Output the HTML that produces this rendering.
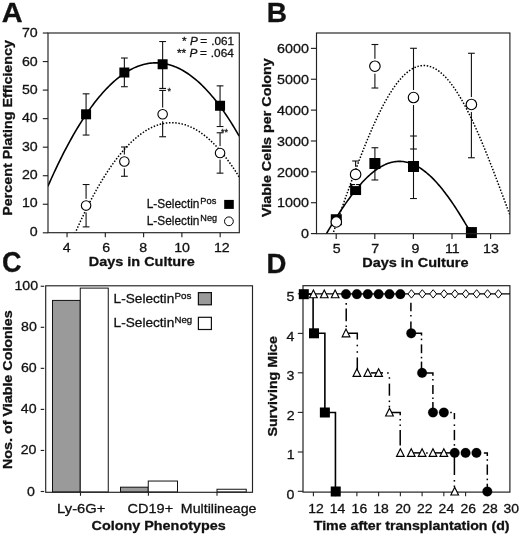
<!DOCTYPE html>
<html><head><meta charset="utf-8"><title>Figure</title>
<style>html,body{margin:0;padding:0;background:#fff}svg{display:block}text{font-family:"Liberation Sans",sans-serif;stroke:#111;stroke-width:0.3px}</style>
</head><body>
<svg width="520" height="535" viewBox="0 0 520 535" fill="#111">
<g id="panelA">
<text transform="translate(1.77,21.70) scale(1.0558,1)" font-size="27.4" font-weight="bold" >A</text>
<clipPath id="cA"><rect x="48.0" y="33.0" width="191.3" height="199.7"/></clipPath>
<line x1="86.08" y1="93.83" x2="86.08" y2="135.05" stroke="#111" stroke-width="1.1" />
<line x1="82.68" y1="93.83" x2="89.48" y2="93.83" stroke="#111" stroke-width="1.1" />
<line x1="82.68" y1="135.05" x2="89.48" y2="135.05" stroke="#111" stroke-width="1.1" />
<line x1="124.36" y1="58.01" x2="124.36" y2="86.72" stroke="#111" stroke-width="1.1" />
<line x1="120.96" y1="58.01" x2="127.76" y2="58.01" stroke="#111" stroke-width="1.1" />
<line x1="120.96" y1="86.72" x2="127.76" y2="86.72" stroke="#111" stroke-width="1.1" />
<line x1="162.64" y1="41.52" x2="162.64" y2="88.43" stroke="#111" stroke-width="1.1" />
<line x1="159.24" y1="41.52" x2="166.04" y2="41.52" stroke="#111" stroke-width="1.1" />
<line x1="159.24" y1="88.43" x2="166.04" y2="88.43" stroke="#111" stroke-width="1.1" />
<line x1="220.06" y1="85.87" x2="220.06" y2="126.52" stroke="#111" stroke-width="1.1" />
<line x1="216.66" y1="85.87" x2="223.46" y2="85.87" stroke="#111" stroke-width="1.1" />
<line x1="216.66" y1="126.52" x2="223.46" y2="126.52" stroke="#111" stroke-width="1.1" />
<line x1="86.08" y1="184.52" x2="86.08" y2="226.88" stroke="#111" stroke-width="1.1" />
<line x1="82.68" y1="184.52" x2="89.48" y2="184.52" stroke="#111" stroke-width="1.1" />
<line x1="82.68" y1="226.88" x2="89.48" y2="226.88" stroke="#111" stroke-width="1.1" />
<line x1="124.36" y1="146.99" x2="124.36" y2="176.28" stroke="#111" stroke-width="1.1" />
<line x1="120.96" y1="146.99" x2="127.76" y2="146.99" stroke="#111" stroke-width="1.1" />
<line x1="120.96" y1="176.28" x2="127.76" y2="176.28" stroke="#111" stroke-width="1.1" />
<line x1="162.64" y1="90.42" x2="162.64" y2="136.76" stroke="#111" stroke-width="1.1" />
<line x1="159.24" y1="90.42" x2="166.04" y2="90.42" stroke="#111" stroke-width="1.1" />
<line x1="159.24" y1="136.76" x2="166.04" y2="136.76" stroke="#111" stroke-width="1.1" />
<line x1="220.06" y1="132.78" x2="220.06" y2="173.15" stroke="#111" stroke-width="1.1" />
<line x1="216.66" y1="132.78" x2="223.46" y2="132.78" stroke="#111" stroke-width="1.1" />
<line x1="216.66" y1="173.15" x2="223.46" y2="173.15" stroke="#111" stroke-width="1.1" />
<circle cx="86.08" cy="205.56" r="6.9" fill="#fff" stroke="none" stroke-width="0"/>
<circle cx="124.36" cy="161.49" r="6.9" fill="#fff" stroke="none" stroke-width="0"/>
<circle cx="162.64" cy="114.30" r="6.9" fill="#fff" stroke="none" stroke-width="0"/>
<circle cx="220.06" cy="152.96" r="6.9" fill="#fff" stroke="none" stroke-width="0"/>
<g clip-path="url(#cA)">
<path d="M47.80,186.54 L49.41,182.89 L51.02,179.29 L52.63,175.75 L54.23,172.26 L55.84,168.83 L57.45,165.45 L59.06,162.12 L60.67,158.86 L62.28,155.64 L63.88,152.48 L65.49,149.38 L67.10,146.33 L68.71,143.33 L70.32,140.39 L71.93,137.50 L73.53,134.67 L75.14,131.90 L76.75,129.17 L78.36,126.51 L79.97,123.89 L81.58,121.34 L83.18,118.83 L84.79,116.39 L86.40,113.99 L88.01,111.65 L89.62,109.37 L91.23,107.14 L92.84,104.97 L94.44,102.85 L96.05,100.78 L97.66,98.77 L99.27,96.81 L100.88,94.91 L102.49,93.07 L104.09,91.28 L105.70,89.54 L107.31,87.86 L108.92,86.23 L110.53,84.66 L112.14,83.14 L113.74,81.68 L115.35,80.27 L116.96,78.91 L118.57,77.61 L120.18,76.37 L121.79,75.18 L123.39,74.05 L125.00,72.97 L126.61,71.94 L128.22,70.97 L129.83,70.05 L131.44,69.19 L133.05,68.39 L134.65,67.63 L136.26,66.94 L137.87,66.30 L139.48,65.71 L141.09,65.18 L142.70,64.70 L144.30,64.27 L145.91,63.91 L147.52,63.59 L149.13,63.33 L150.74,63.13 L152.35,62.98 L153.95,62.88 L155.56,62.84 L157.17,62.86 L158.78,62.93 L160.39,63.05 L162.00,63.23 L163.61,63.46 L165.21,63.75 L166.82,64.09 L168.43,64.49 L170.04,64.94 L171.65,65.45 L173.26,66.01 L174.86,66.63 L176.47,67.30 L178.08,68.03 L179.69,68.81 L181.30,69.64 L182.91,70.53 L184.51,71.48 L186.12,72.48 L187.73,73.53 L189.34,74.64 L190.95,75.80 L192.56,77.02 L194.16,78.30 L195.77,79.62 L197.38,81.01 L198.99,82.44 L200.60,83.94 L202.21,85.48 L203.82,87.08 L205.42,88.74 L207.03,90.45 L208.64,92.22 L210.25,94.04 L211.86,95.91 L213.47,97.84 L215.07,99.83 L216.68,101.87 L218.29,103.96 L219.90,106.11 L221.51,108.31 L223.12,110.57 L224.72,112.89 L226.33,115.25 L227.94,117.68 L229.55,120.15 L231.16,122.69 L232.77,125.27 L234.37,127.91 L235.98,130.61 L237.59,133.36 L239.20,136.17" fill="none" stroke="#000" stroke-width="1.6" />
<path d="M70.00,245.11 L71.14,242.39 L72.28,239.70 L73.42,237.04 L74.56,234.41 L75.70,231.81 L76.85,229.24 L77.99,226.70 L79.13,224.19 L80.27,221.72 L81.41,219.27 L82.55,216.85 L83.69,214.47 L84.83,212.11 L85.97,209.79 L87.11,207.49 L88.26,205.23 L89.40,202.99 L90.54,200.79 L91.68,198.62 L92.82,196.48 L93.96,194.36 L95.10,192.28 L96.24,190.23 L97.38,188.21 L98.52,186.22 L99.66,184.26 L100.81,182.33 L101.95,180.44 L103.09,178.57 L104.23,176.73 L105.37,174.92 L106.51,173.15 L107.65,171.40 L108.79,169.69 L109.93,168.00 L111.07,166.35 L112.21,164.73 L113.36,163.13 L114.50,161.57 L115.64,160.04 L116.78,158.54 L117.92,157.07 L119.06,155.63 L120.20,154.22 L121.34,152.85 L122.48,151.50 L123.62,150.18 L124.77,148.90 L125.91,147.64 L127.05,146.42 L128.19,145.22 L129.33,144.06 L130.47,142.93 L131.61,141.83 L132.75,140.75 L133.89,139.71 L135.03,138.71 L136.17,137.73 L137.32,136.78 L138.46,135.86 L139.60,134.98 L140.74,134.12 L141.88,133.29 L143.02,132.50 L144.16,131.74 L145.30,131.01 L146.44,130.30 L147.58,129.63 L148.72,128.99 L149.87,128.38 L151.01,127.81 L152.15,127.26 L153.29,126.74 L154.43,126.26 L155.57,125.80 L156.71,125.38 L157.85,124.99 L158.99,124.62 L160.13,124.29 L161.28,123.99 L162.42,123.72 L163.56,123.48 L164.70,123.28 L165.84,123.10 L166.98,122.95 L168.12,122.84 L169.26,122.76 L170.40,122.70 L171.54,122.68 L172.68,122.69 L173.83,122.73 L174.97,122.80 L176.11,122.90 L177.25,123.04 L178.39,123.20 L179.53,123.40 L180.67,123.62 L181.81,123.88 L182.95,124.17 L184.09,124.49 L185.23,124.84 L186.38,125.22 L187.52,125.63 L188.66,126.08 L189.80,126.55 L190.94,127.06 L192.08,127.60 L193.22,128.16 L194.36,128.76 L195.50,129.39 L196.64,130.05 L197.79,130.75 L198.93,131.47 L200.07,132.23 L201.21,133.01 L202.35,133.83 L203.49,134.68 L204.63,135.56 L205.77,136.47 L206.91,137.41 L208.05,138.38 L209.19,139.39 L210.34,140.42 L211.48,141.49 L212.62,142.59 L213.76,143.72 L214.90,144.88 L216.04,146.07 L217.18,147.29 L218.32,148.55 L219.46,149.83 L220.60,151.15 L221.74,152.50 L222.89,153.88 L224.03,155.29 L225.17,156.73 L226.31,158.20 L227.45,159.71 L228.59,161.25 L229.73,162.81 L230.87,164.41 L232.01,166.04 L233.15,167.70 L234.30,169.40 L235.44,171.12 L236.58,172.88 L237.72,174.66 L238.86,176.48 L240.00,178.33" fill="none" stroke="#000" stroke-width="1.5" stroke-dasharray="1.5 1.65"/>
</g>
<rect x="81.08" y="109.30" width="10.00" height="10.00" fill="#000" stroke="none" stroke-width="1"/>
<rect x="119.36" y="67.51" width="10.00" height="10.00" fill="#000" stroke="none" stroke-width="1"/>
<rect x="157.64" y="59.26" width="10.00" height="10.00" fill="#000" stroke="none" stroke-width="1"/>
<rect x="215.06" y="100.77" width="10.00" height="10.00" fill="#000" stroke="none" stroke-width="1"/>
<circle cx="86.08" cy="205.56" r="4.75" fill="#fff" stroke="#000" stroke-width="1.1"/>
<circle cx="124.36" cy="161.49" r="4.75" fill="#fff" stroke="#000" stroke-width="1.1"/>
<circle cx="162.64" cy="114.30" r="4.75" fill="#fff" stroke="#000" stroke-width="1.1"/>
<circle cx="220.06" cy="152.96" r="4.75" fill="#fff" stroke="#000" stroke-width="1.1"/>
<rect x="48.00" y="33.00" width="191.30" height="199.70" fill="none" stroke="#222" stroke-width="1.15"/>
<line x1="42.80" y1="232.80" x2="48.00" y2="232.80" stroke="#222" stroke-width="1.15" />
<text transform="translate(29.85,235.70) scale(1.0500,1)" font-size="13.5" font-weight="normal" >0</text>
<line x1="42.80" y1="204.26" x2="48.00" y2="204.26" stroke="#222" stroke-width="1.15" />
<text transform="translate(21.98,207.38) scale(1.0500,1)" font-size="13.5" font-weight="normal" >10</text>
<line x1="42.80" y1="175.72" x2="48.00" y2="175.72" stroke="#222" stroke-width="1.15" />
<text transform="translate(21.98,179.06) scale(1.0500,1)" font-size="13.5" font-weight="normal" >20</text>
<line x1="42.80" y1="147.18" x2="48.00" y2="147.18" stroke="#222" stroke-width="1.15" />
<text transform="translate(21.98,150.74) scale(1.0500,1)" font-size="13.5" font-weight="normal" >30</text>
<line x1="42.80" y1="118.64" x2="48.00" y2="118.64" stroke="#222" stroke-width="1.15" />
<text transform="translate(21.98,122.42) scale(1.0500,1)" font-size="13.5" font-weight="normal" >40</text>
<line x1="42.80" y1="90.10" x2="48.00" y2="90.10" stroke="#222" stroke-width="1.15" />
<text transform="translate(21.98,94.10) scale(1.0500,1)" font-size="13.5" font-weight="normal" >50</text>
<line x1="42.80" y1="61.56" x2="48.00" y2="61.56" stroke="#222" stroke-width="1.15" />
<text transform="translate(21.98,65.78) scale(1.0500,1)" font-size="13.5" font-weight="normal" >60</text>
<line x1="42.80" y1="33.02" x2="48.00" y2="33.02" stroke="#222" stroke-width="1.15" />
<text transform="translate(21.98,37.46) scale(1.0500,1)" font-size="13.5" font-weight="normal" >70</text>
<line x1="67.04" y1="232.70" x2="67.04" y2="237.30" stroke="#222" stroke-width="1.15" />
<text transform="translate(62.64,251.60) scale(1.0500,1)" font-size="13.5" font-weight="normal" >4</text>
<line x1="105.32" y1="232.70" x2="105.32" y2="237.30" stroke="#222" stroke-width="1.15" />
<text transform="translate(102.32,251.60) scale(1.0500,1)" font-size="13.5" font-weight="normal" >6</text>
<line x1="143.60" y1="232.70" x2="143.60" y2="237.30" stroke="#222" stroke-width="1.15" />
<text transform="translate(139.16,251.60) scale(1.0500,1)" font-size="13.5" font-weight="normal" >8</text>
<line x1="181.88" y1="232.70" x2="181.88" y2="237.30" stroke="#222" stroke-width="1.15" />
<text transform="translate(174.24,251.60) scale(1.0500,1)" font-size="13.5" font-weight="normal" >10</text>
<line x1="220.16" y1="232.70" x2="220.16" y2="237.30" stroke="#222" stroke-width="1.15" />
<text transform="translate(213.92,251.60) scale(1.0500,1)" font-size="13.5" font-weight="normal" >12</text>
<text transform="translate(88.86,266.40) scale(1.0687,1)" font-size="13.5" font-weight="bold" >Days in Culture</text>
<text transform="translate(12.00,215.73) rotate(-90) scale(1.0602,1)" font-size="13.5" font-weight="bold">Percent Plating Efficiency</text>
<text transform="translate(182.11,44.70) scale(0.9952,1)" font-size="11.8" font-weight="normal" >* <tspan font-style="italic">P</tspan><tspan dx="-0.7"> =</tspan><tspan dx="0.7"> .061</tspan></text>
<text transform="translate(177.01,57.40) scale(1.0001,1)" font-size="11.8" font-weight="normal" >** <tspan font-style="italic">P</tspan><tspan dx="-0.7"> =</tspan><tspan dx="0.7"> .064</tspan></text>
<text transform="translate(167.45,93.90) scale(1.0000,1)" font-size="9" font-weight="normal" stroke="none" fill="#333">*</text>
<text transform="translate(221.10,134.60) scale(1.0000,1)" font-size="9" font-weight="normal" stroke="none" fill="#333">**</text>
<text transform="translate(146.73,208.30) scale(0.9128,1)" font-size="13">L-Selectin</text>
<text transform="translate(200.33,204.40) scale(1.0320,1)" font-size="9">Pos</text>
<text transform="translate(146.73,224.60) scale(0.9128,1)" font-size="13">L-Selectin</text>
<text transform="translate(200.34,220.70) scale(1.0140,1)" font-size="9">Neg</text>
<rect x="224.20" y="199.90" width="9.60" height="9.00" fill="#000" stroke="none" stroke-width="1"/>
<circle cx="228.90" cy="221.30" r="4.4" fill="#fff" stroke="#000" stroke-width="1.0"/>
</g>
<g id="panelB">
<text transform="translate(266.71,21.60) scale(1.0403,1)" font-size="27" font-weight="bold" >B</text>
<clipPath id="cB"><rect x="316.5" y="33.0" width="193.39999999999998" height="200.7"/></clipPath>
<line x1="355.60" y1="185.07" x2="355.60" y2="190.25" stroke="#111" stroke-width="1.1" />
<line x1="352.20" y1="185.07" x2="359.00" y2="185.07" stroke="#111" stroke-width="1.1" />
<line x1="352.20" y1="190.25" x2="359.00" y2="190.25" stroke="#111" stroke-width="1.1" />
<line x1="374.90" y1="147.74" x2="374.90" y2="179.98" stroke="#111" stroke-width="1.1" />
<line x1="371.50" y1="147.74" x2="378.30" y2="147.74" stroke="#111" stroke-width="1.1" />
<line x1="371.50" y1="179.98" x2="378.30" y2="179.98" stroke="#111" stroke-width="1.1" />
<line x1="413.50" y1="136.01" x2="413.50" y2="198.52" stroke="#111" stroke-width="1.1" />
<line x1="410.10" y1="136.01" x2="416.90" y2="136.01" stroke="#111" stroke-width="1.1" />
<line x1="410.10" y1="198.52" x2="416.90" y2="198.52" stroke="#111" stroke-width="1.1" />
<line x1="355.60" y1="161.00" x2="355.60" y2="173.99" stroke="#111" stroke-width="1.1" />
<line x1="352.20" y1="161.00" x2="359.00" y2="161.00" stroke="#111" stroke-width="1.1" />
<line x1="352.20" y1="173.99" x2="359.00" y2="173.99" stroke="#111" stroke-width="1.1" />
<line x1="374.90" y1="44.51" x2="374.90" y2="88.01" stroke="#111" stroke-width="1.1" />
<line x1="371.50" y1="44.51" x2="378.30" y2="44.51" stroke="#111" stroke-width="1.1" />
<line x1="371.50" y1="88.01" x2="378.30" y2="88.01" stroke="#111" stroke-width="1.1" />
<line x1="413.50" y1="48.28" x2="413.50" y2="149.00" stroke="#111" stroke-width="1.1" />
<line x1="410.10" y1="48.28" x2="416.90" y2="48.28" stroke="#111" stroke-width="1.1" />
<line x1="410.10" y1="149.00" x2="416.90" y2="149.00" stroke="#111" stroke-width="1.1" />
<line x1="471.40" y1="53.27" x2="471.40" y2="157.76" stroke="#111" stroke-width="1.1" />
<line x1="468.00" y1="53.27" x2="474.80" y2="53.27" stroke="#111" stroke-width="1.1" />
<line x1="468.00" y1="157.76" x2="474.80" y2="157.76" stroke="#111" stroke-width="1.1" />
<circle cx="336.30" cy="221.99" r="7.6" fill="#fff" stroke="none" stroke-width="0"/>
<circle cx="355.60" cy="174.42" r="7.6" fill="#fff" stroke="none" stroke-width="0"/>
<circle cx="374.90" cy="66.23" r="7.6" fill="#fff" stroke="none" stroke-width="0"/>
<circle cx="413.50" cy="97.51" r="7.6" fill="#fff" stroke="none" stroke-width="0"/>
<circle cx="471.40" cy="104.49" r="7.6" fill="#fff" stroke="none" stroke-width="0"/>
<g clip-path="url(#cB)">
<path d="M324.00,237.67 L325.24,235.61 L326.47,233.55 L327.71,231.50 L328.94,229.46 L330.18,227.43 L331.41,225.41 L332.65,223.41 L333.88,221.42 L335.12,219.45 L336.35,217.50 L337.59,215.56 L338.82,213.65 L340.06,211.75 L341.29,209.88 L342.53,208.03 L343.76,206.20 L345.00,204.40 L346.24,202.63 L347.47,200.88 L348.71,199.16 L349.94,197.47 L351.18,195.81 L352.41,194.18 L353.65,192.58 L354.88,191.01 L356.12,189.47 L357.35,187.97 L358.59,186.51 L359.82,185.08 L361.06,183.68 L362.29,182.32 L363.53,181.00 L364.76,179.72 L366.00,178.48 L367.24,177.28 L368.47,176.11 L369.71,174.99 L370.94,173.91 L372.18,172.87 L373.41,171.87 L374.65,170.91 L375.88,170.00 L377.12,169.13 L378.35,168.31 L379.59,167.53 L380.82,166.79 L382.06,166.10 L383.29,165.46 L384.53,164.86 L385.76,164.31 L387.00,163.81 L388.24,163.35 L389.47,162.94 L390.71,162.57 L391.94,162.25 L393.18,161.98 L394.41,161.76 L395.65,161.59 L396.88,161.46 L398.12,161.39 L399.35,161.36 L400.59,161.38 L401.82,161.44 L403.06,161.56 L404.29,161.72 L405.53,161.93 L406.76,162.19 L408.00,162.50 L409.24,162.86 L410.47,163.26 L411.71,163.71 L412.94,164.21 L414.18,164.75 L415.41,165.35 L416.65,165.99 L417.88,166.67 L419.12,167.40 L420.35,168.18 L421.59,169.01 L422.82,169.88 L424.06,170.79 L425.29,171.75 L426.53,172.75 L427.76,173.80 L429.00,174.89 L430.24,176.02 L431.47,177.20 L432.71,178.42 L433.94,179.68 L435.18,180.98 L436.41,182.32 L437.65,183.70 L438.88,185.11 L440.12,186.57 L441.35,188.07 L442.59,189.60 L443.82,191.16 L445.06,192.77 L446.29,194.41 L447.53,196.08 L448.76,197.78 L450.00,199.52 L451.24,201.29 L452.47,203.09 L453.71,204.92 L454.94,206.78 L456.18,208.67 L457.41,210.58 L458.65,212.53 L459.88,214.49 L461.12,216.48 L462.35,218.49 L463.59,220.53 L464.82,222.59 L466.06,224.66 L467.29,226.76 L468.53,228.87 L469.76,231.00 L471.00,233.15" fill="none" stroke="#000" stroke-width="1.6" />
<path d="M325.00,255.69 L326.26,252.26 L327.51,248.80 L328.77,245.32 L330.02,241.82 L331.28,238.30 L332.53,234.76 L333.79,231.21 L335.04,227.65 L336.30,224.08 L337.55,220.51 L338.81,216.93 L340.06,213.35 L341.32,209.78 L342.57,206.21 L343.83,202.64 L345.08,199.09 L346.34,195.54 L347.59,192.01 L348.85,188.49 L350.10,184.99 L351.36,181.51 L352.61,178.06 L353.87,174.62 L355.12,171.21 L356.38,167.83 L357.63,164.48 L358.89,161.16 L360.14,157.87 L361.40,154.61 L362.65,151.40 L363.91,148.22 L365.16,145.08 L366.42,141.98 L367.67,138.93 L368.93,135.92 L370.18,132.96 L371.44,130.04 L372.69,127.18 L373.95,124.36 L375.20,121.60 L376.46,118.89 L377.71,116.24 L378.97,113.64 L380.22,111.10 L381.48,108.62 L382.73,106.20 L383.99,103.84 L385.24,101.54 L386.50,99.31 L387.75,97.14 L389.01,95.03 L390.26,92.99 L391.52,91.02 L392.77,89.12 L394.03,87.28 L395.28,85.52 L396.54,83.82 L397.79,82.20 L399.05,80.65 L400.30,79.17 L401.56,77.76 L402.81,76.43 L404.07,75.17 L405.32,73.99 L406.58,72.88 L407.83,71.85 L409.09,70.90 L410.34,70.02 L411.60,69.22 L412.85,68.50 L414.11,67.85 L415.36,67.29 L416.62,66.80 L417.87,66.39 L419.13,66.05 L420.38,65.80 L421.64,65.63 L422.89,65.53 L424.15,65.51 L425.40,65.57 L426.66,65.71 L427.91,65.93 L429.17,66.23 L430.42,66.61 L431.68,67.06 L432.93,67.59 L434.19,68.20 L435.44,68.88 L436.70,69.65 L437.95,70.48 L439.21,71.40 L440.46,72.39 L441.72,73.45 L442.97,74.59 L444.23,75.80 L445.48,77.09 L446.74,78.45 L447.99,79.88 L449.25,81.38 L450.50,82.95 L451.76,84.59 L453.01,86.30 L454.27,88.08 L455.52,89.92 L456.78,91.83 L458.03,93.81 L459.29,95.85 L460.54,97.95 L461.80,100.11 L463.05,102.34 L464.31,104.62 L465.56,106.97 L466.82,109.37 L468.07,111.82 L469.33,114.33 L470.58,116.90 L471.84,119.51 L473.09,122.18 L474.35,124.89 L475.60,127.66 L476.86,130.47 L478.11,133.32 L479.37,136.22 L480.62,139.15 L481.88,142.13 L483.13,145.14 L484.39,148.20 L485.64,151.28 L486.90,154.40 L488.15,157.55 L489.41,160.73 L490.66,163.93 L491.92,167.16 L493.17,170.41 L494.43,173.69 L495.68,176.98 L496.94,180.29 L498.19,183.61 L499.45,186.95 L500.70,190.30 L501.96,193.65 L503.21,197.01 L504.47,200.38 L505.72,203.74 L506.98,207.11 L508.23,210.47 L509.49,213.83 L510.74,217.17 L512.00,220.51" fill="none" stroke="#000" stroke-width="1.5" stroke-dasharray="1.5 1.65"/>
</g>
<rect x="330.80" y="214.24" width="11.00" height="11.00" fill="#000" stroke="none" stroke-width="1"/>
<rect x="350.10" y="184.04" width="11.00" height="11.00" fill="#000" stroke="none" stroke-width="1"/>
<rect x="369.40" y="158.00" width="11.00" height="11.00" fill="#000" stroke="none" stroke-width="1"/>
<rect x="408.00" y="160.99" width="11.00" height="11.00" fill="#000" stroke="none" stroke-width="1"/>
<rect x="465.90" y="227.07" width="11.00" height="11.00" fill="#000" stroke="none" stroke-width="1"/>
<line x1="352.40" y1="185.60" x2="358.80" y2="185.60" stroke="#fff" stroke-width="1" />
<line x1="355.60" y1="183.50" x2="355.60" y2="185.60" stroke="#fff" stroke-width="1" />
<circle cx="336.30" cy="221.99" r="5.25" fill="#fff" stroke="#000" stroke-width="1.15"/>
<circle cx="355.60" cy="174.42" r="5.25" fill="#fff" stroke="#000" stroke-width="1.15"/>
<circle cx="374.90" cy="66.23" r="5.25" fill="#fff" stroke="#000" stroke-width="1.15"/>
<circle cx="413.50" cy="97.51" r="5.25" fill="#fff" stroke="#000" stroke-width="1.15"/>
<circle cx="471.40" cy="104.49" r="5.25" fill="#fff" stroke="#000" stroke-width="1.15"/>
<rect x="316.50" y="33.00" width="193.40" height="200.70" fill="none" stroke="#222" stroke-width="1.15"/>
<line x1="310.90" y1="233.60" x2="316.50" y2="233.60" stroke="#222" stroke-width="1.15" />
<text transform="translate(300.88,238.10) scale(1.0600,1)" font-size="13.5" font-weight="normal" >0</text>
<line x1="310.90" y1="202.73" x2="316.50" y2="202.73" stroke="#222" stroke-width="1.15" />
<text transform="translate(277.03,207.30) scale(1.0600,1)" font-size="13.5" font-weight="normal" >1000</text>
<line x1="310.90" y1="171.86" x2="316.50" y2="171.86" stroke="#222" stroke-width="1.15" />
<text transform="translate(277.03,176.50) scale(1.0600,1)" font-size="13.5" font-weight="normal" >2000</text>
<line x1="310.90" y1="140.99" x2="316.50" y2="140.99" stroke="#222" stroke-width="1.15" />
<text transform="translate(277.03,145.70) scale(1.0600,1)" font-size="13.5" font-weight="normal" >3000</text>
<line x1="310.90" y1="110.12" x2="316.50" y2="110.12" stroke="#222" stroke-width="1.15" />
<text transform="translate(277.03,114.90) scale(1.0600,1)" font-size="13.5" font-weight="normal" >4000</text>
<line x1="310.90" y1="79.25" x2="316.50" y2="79.25" stroke="#222" stroke-width="1.15" />
<text transform="translate(277.03,84.10) scale(1.0600,1)" font-size="13.5" font-weight="normal" >5000</text>
<line x1="310.90" y1="48.38" x2="316.50" y2="48.38" stroke="#222" stroke-width="1.15" />
<text transform="translate(277.03,53.30) scale(1.0600,1)" font-size="13.5" font-weight="normal" >6000</text>
<line x1="336.20" y1="233.70" x2="336.20" y2="238.90" stroke="#222" stroke-width="1.15" />
<text transform="translate(332.76,253.30) scale(1.0500,1)" font-size="13.5" font-weight="normal" >5</text>
<line x1="374.80" y1="233.70" x2="374.80" y2="238.90" stroke="#222" stroke-width="1.15" />
<text transform="translate(371.36,253.30) scale(1.0500,1)" font-size="13.5" font-weight="normal" >7</text>
<line x1="413.40" y1="233.70" x2="413.40" y2="238.90" stroke="#222" stroke-width="1.15" />
<text transform="translate(411.46,253.30) scale(1.0500,1)" font-size="13.5" font-weight="normal" >9</text>
<line x1="452.00" y1="233.70" x2="452.00" y2="238.90" stroke="#222" stroke-width="1.15" />
<text transform="translate(444.95,253.30) scale(1.0500,1)" font-size="13.5" font-weight="normal" >11</text>
<line x1="490.60" y1="233.70" x2="490.60" y2="238.90" stroke="#222" stroke-width="1.15" />
<text transform="translate(483.00,253.30) scale(1.0500,1)" font-size="13.5" font-weight="normal" >13</text>
<text transform="translate(362.16,267.00) scale(1.0749,1)" font-size="13.5" font-weight="bold" >Days in Culture</text>
<text transform="translate(270.60,217.03) rotate(-90) scale(1.0613,1)" font-size="13.5" font-weight="bold">Viable Cells per Colony</text>
</g>
<g id="panelC">
<text transform="translate(2.10,272.10) scale(0.9294,1)" font-size="29" font-weight="bold" >C</text>
<rect x="52.50" y="300.42" width="27.75" height="191.58" fill="#9a9a9a" stroke="#111" stroke-width="1"/>
<rect x="80.25" y="288.10" width="28.00" height="203.90" fill="#fff" stroke="#111" stroke-width="1"/>
<rect x="120.50" y="487.19" width="27.75" height="4.81" fill="#9a9a9a" stroke="#111" stroke-width="1"/>
<rect x="148.25" y="481.04" width="29.25" height="10.96" fill="#fff" stroke="#111" stroke-width="1"/>
<rect x="217.00" y="489.25" width="29.25" height="2.75" fill="#fff" stroke="#111" stroke-width="1"/>
<rect x="45.70" y="285.80" width="206.80" height="206.50" fill="none" stroke="#222" stroke-width="1.15"/>
<line x1="40.70" y1="491.50" x2="44.20" y2="491.50" stroke="#222" stroke-width="1.15" />
<text transform="translate(26.95,495.50) scale(1.0500,1)" font-size="13.5" font-weight="normal" >0</text>
<line x1="40.70" y1="450.45" x2="44.20" y2="450.45" stroke="#222" stroke-width="1.15" />
<text transform="translate(20.67,454.45) scale(1.0500,1)" font-size="13.5" font-weight="normal" >20</text>
<line x1="40.70" y1="409.40" x2="44.20" y2="409.40" stroke="#222" stroke-width="1.15" />
<text transform="translate(20.77,413.40) scale(1.0500,1)" font-size="13.5" font-weight="normal" >40</text>
<line x1="40.70" y1="368.35" x2="44.20" y2="368.35" stroke="#222" stroke-width="1.15" />
<text transform="translate(20.98,372.35) scale(1.0500,1)" font-size="13.5" font-weight="normal" >60</text>
<line x1="40.70" y1="327.30" x2="44.20" y2="327.30" stroke="#222" stroke-width="1.15" />
<text transform="translate(21.07,331.30) scale(1.0500,1)" font-size="13.5" font-weight="normal" >80</text>
<line x1="40.70" y1="286.25" x2="44.20" y2="286.25" stroke="#222" stroke-width="1.15" />
<text transform="translate(14.40,290.25) scale(1.0500,1)" font-size="13.5" font-weight="normal" >100</text>
<line x1="80.50" y1="492.30" x2="80.50" y2="495.80" stroke="#222" stroke-width="1.1" />
<line x1="148.40" y1="492.30" x2="148.40" y2="495.80" stroke="#222" stroke-width="1.1" />
<line x1="217.00" y1="492.30" x2="217.00" y2="495.80" stroke="#222" stroke-width="1.1" />
<text transform="translate(57.11,513.20) scale(1.1173,1)" font-size="13.2" font-weight="normal" >Ly-6G+</text>
<text transform="translate(127.54,513.20) scale(1.1008,1)" font-size="13.2" font-weight="normal" >CD19+</text>
<text transform="translate(180.86,513.20) scale(1.0749,1)" font-size="13.2" font-weight="normal" >Multilineage</text>
<text transform="translate(91.60,530.30) scale(1.0643,1)" font-size="13.5" font-weight="bold" >Colony Phenotypes</text>
<text transform="translate(12.40,469.03) rotate(-90) scale(1.0606,1)" font-size="13.5" font-weight="bold">Nos. of Viable Colonies</text>
<text transform="translate(113.57,303.00) scale(1.0041,1)" font-size="13.6">L-Selectin</text>
<text transform="translate(174.40,299.00) scale(1.0712,1)" font-size="9.2">Pos</text>
<text transform="translate(113.57,326.70) scale(1.0041,1)" font-size="13.6">L-Selectin</text>
<text transform="translate(174.41,322.70) scale(1.0516,1)" font-size="9.2">Neg</text>
<rect x="198.40" y="292.60" width="13.00" height="12.20" fill="#9a9a9a" stroke="#111" stroke-width="1.2"/>
<rect x="198.40" y="317.30" width="13.00" height="12.20" fill="#fff" stroke="#111" stroke-width="1.2"/>
</g>
<g id="panelD">
<text transform="translate(266.45,273.20) scale(1.0204,1)" font-size="27" font-weight="bold" >D</text>
<rect x="303.00" y="285.70" width="206.90" height="206.40" fill="none" stroke="#222" stroke-width="1.2"/>
<line x1="297.80" y1="491.30" x2="303.00" y2="491.30" stroke="#222" stroke-width="1.1" />
<text transform="translate(286.55,498.60) scale(1.0500,1)" font-size="13.5" font-weight="normal" >0</text>
<line x1="297.80" y1="452.00" x2="303.00" y2="452.00" stroke="#222" stroke-width="1.1" />
<text transform="translate(286.68,459.30) scale(1.0500,1)" font-size="13.5" font-weight="normal" >1</text>
<line x1="297.80" y1="412.40" x2="303.00" y2="412.40" stroke="#222" stroke-width="1.1" />
<text transform="translate(286.75,419.70) scale(1.0500,1)" font-size="13.5" font-weight="normal" >2</text>
<line x1="297.80" y1="372.80" x2="303.00" y2="372.80" stroke="#222" stroke-width="1.1" />
<text transform="translate(286.62,380.10) scale(1.0500,1)" font-size="13.5" font-weight="normal" >3</text>
<line x1="297.80" y1="333.40" x2="303.00" y2="333.40" stroke="#222" stroke-width="1.1" />
<text transform="translate(286.42,340.70) scale(1.0500,1)" font-size="13.5" font-weight="normal" >4</text>
<line x1="297.80" y1="293.80" x2="303.00" y2="293.80" stroke="#222" stroke-width="1.1" />
<text transform="translate(286.62,301.10) scale(1.0500,1)" font-size="13.5" font-weight="normal" >5</text>
<line x1="313.40" y1="492.10" x2="313.40" y2="496.30" stroke="#222" stroke-width="1.1" />
<text transform="translate(308.15,513.30) scale(1.0600,1)" font-size="13.2" font-weight="normal" >12</text>
<line x1="335.14" y1="492.10" x2="335.14" y2="496.30" stroke="#222" stroke-width="1.1" />
<text transform="translate(329.76,513.30) scale(1.0600,1)" font-size="13.2" font-weight="normal" >14</text>
<line x1="356.88" y1="492.10" x2="356.88" y2="496.30" stroke="#222" stroke-width="1.1" />
<text transform="translate(351.60,513.30) scale(1.0600,1)" font-size="13.2" font-weight="normal" >16</text>
<line x1="378.62" y1="492.10" x2="378.62" y2="496.30" stroke="#222" stroke-width="1.1" />
<text transform="translate(373.34,513.30) scale(1.0600,1)" font-size="13.2" font-weight="normal" >18</text>
<line x1="400.36" y1="492.10" x2="400.36" y2="496.30" stroke="#222" stroke-width="1.1" />
<text transform="translate(395.21,513.30) scale(1.0600,1)" font-size="13.2" font-weight="normal" >20</text>
<line x1="422.10" y1="492.10" x2="422.10" y2="496.30" stroke="#222" stroke-width="1.1" />
<text transform="translate(417.02,513.30) scale(1.0600,1)" font-size="13.2" font-weight="normal" >22</text>
<line x1="443.84" y1="492.10" x2="443.84" y2="496.30" stroke="#222" stroke-width="1.1" />
<text transform="translate(438.62,513.30) scale(1.0600,1)" font-size="13.2" font-weight="normal" >24</text>
<line x1="465.58" y1="492.10" x2="465.58" y2="496.30" stroke="#222" stroke-width="1.1" />
<text transform="translate(460.46,513.30) scale(1.0600,1)" font-size="13.2" font-weight="normal" >26</text>
<line x1="487.32" y1="492.10" x2="487.32" y2="496.30" stroke="#222" stroke-width="1.1" />
<text transform="translate(482.20,513.30) scale(1.0600,1)" font-size="13.2" font-weight="normal" >28</text>
<text transform="translate(503.41,513.30) scale(1.0600,1)" font-size="13.2" font-weight="normal" >30</text>
<text transform="translate(313.76,530.30) scale(1.0907,1)" font-size="13.0" font-weight="bold" >Time after transplantation (d)</text>
<text transform="translate(276.60,436.60) rotate(-90) scale(1.0557,1)" font-size="13.5" font-weight="bold">Surviving Mice</text>
<line x1="303.00" y1="293.90" x2="509.90" y2="293.90" stroke="#000" stroke-width="1.3" />
<path d="M304.50,294.20 L313.10,294.20 L313.10,333.30 L324.87,333.30 L324.87,412.50 L335.44,412.50 L335.44,491.50" fill="none" stroke="#000" stroke-width="1.6" />
<line x1="346.21" y1="303.10" x2="346.21" y2="304.70" stroke="#000" stroke-width="1.5" />
<line x1="346.21" y1="308.60" x2="346.21" y2="321.30" stroke="#000" stroke-width="1.5" />
<line x1="346.21" y1="325.40" x2="346.21" y2="327.00" stroke="#000" stroke-width="1.5" />
<path d="M346.01,333.30 L357.30,333.30 L357.30,339.60" fill="none" stroke="#000" stroke-width="1.5" />
<line x1="357.30" y1="344.70" x2="357.30" y2="346.30" stroke="#000" stroke-width="1.5" />
<line x1="357.30" y1="351.20" x2="357.30" y2="352.80" stroke="#000" stroke-width="1.5" />
<line x1="357.30" y1="357.40" x2="357.30" y2="372.90" stroke="#000" stroke-width="1.5" />
<line x1="371.00" y1="372.90" x2="383.00" y2="372.90" stroke="#000" stroke-width="1.5" />
<line x1="387.10" y1="372.90" x2="388.70" y2="372.90" stroke="#000" stroke-width="1.5" />
<line x1="389.40" y1="377.20" x2="389.40" y2="378.80" stroke="#000" stroke-width="1.5" />
<line x1="389.40" y1="383.60" x2="389.40" y2="395.70" stroke="#000" stroke-width="1.5" />
<line x1="389.40" y1="400.50" x2="389.40" y2="402.10" stroke="#000" stroke-width="1.5" />
<line x1="389.40" y1="405.70" x2="389.40" y2="407.30" stroke="#000" stroke-width="1.5" />
<path d="M389.49,412.50 L400.20,412.50 L400.20,415.20" fill="none" stroke="#000" stroke-width="1.5" />
<line x1="400.20" y1="419.00" x2="400.20" y2="420.60" stroke="#000" stroke-width="1.5" />
<line x1="400.20" y1="424.40" x2="400.20" y2="426.00" stroke="#000" stroke-width="1.5" />
<line x1="400.20" y1="429.90" x2="400.20" y2="445.50" stroke="#000" stroke-width="1.5" />
<line x1="411.23" y1="452.90" x2="422.10" y2="452.90" stroke="#000" stroke-width="1.5" />
<line x1="426.10" y1="452.90" x2="427.70" y2="452.90" stroke="#000" stroke-width="1.5" />
<line x1="432.97" y1="452.90" x2="454.71" y2="452.90" stroke="#000" stroke-width="1.5" />
<line x1="454.40" y1="456.00" x2="454.40" y2="475.00" stroke="#000" stroke-width="1.5" />
<line x1="454.40" y1="480.00" x2="454.40" y2="481.60" stroke="#000" stroke-width="1.5" />
<line x1="454.40" y1="485.50" x2="454.40" y2="487.10" stroke="#000" stroke-width="1.5" />
<line x1="410.90" y1="302.80" x2="410.90" y2="311.20" stroke="#000" stroke-width="1.5" />
<line x1="410.90" y1="315.00" x2="410.90" y2="316.60" stroke="#000" stroke-width="1.5" />
<line x1="410.90" y1="321.40" x2="410.90" y2="333.30" stroke="#000" stroke-width="1.5" />
<path d="M411.23,333.30 L421.50,333.30 L421.50,335.50" fill="none" stroke="#000" stroke-width="1.5" />
<line x1="421.50" y1="338.60" x2="421.50" y2="340.20" stroke="#000" stroke-width="1.5" />
<line x1="421.50" y1="344.40" x2="421.50" y2="353.20" stroke="#000" stroke-width="1.5" />
<line x1="421.50" y1="356.80" x2="421.50" y2="358.40" stroke="#000" stroke-width="1.5" />
<line x1="421.50" y1="361.60" x2="421.50" y2="372.90" stroke="#000" stroke-width="1.5" />
<path d="M422.10,372.90 L432.90,372.90 L432.90,375.80" fill="none" stroke="#000" stroke-width="1.5" />
<line x1="432.90" y1="379.00" x2="432.90" y2="380.60" stroke="#000" stroke-width="1.5" />
<line x1="432.90" y1="384.90" x2="432.90" y2="394.00" stroke="#000" stroke-width="1.5" />
<line x1="432.90" y1="397.40" x2="432.90" y2="399.00" stroke="#000" stroke-width="1.5" />
<line x1="432.90" y1="401.90" x2="432.90" y2="412.50" stroke="#000" stroke-width="1.5" />
<line x1="450.20" y1="412.50" x2="451.80" y2="412.50" stroke="#000" stroke-width="1.5" />
<line x1="454.40" y1="413.00" x2="454.40" y2="419.20" stroke="#000" stroke-width="1.5" />
<line x1="454.40" y1="424.40" x2="454.40" y2="426.00" stroke="#000" stroke-width="1.5" />
<line x1="454.40" y1="429.90" x2="454.40" y2="440.20" stroke="#000" stroke-width="1.5" />
<line x1="454.40" y1="444.10" x2="454.40" y2="445.70" stroke="#000" stroke-width="1.5" />
<path d="M483.90,452.90 L487.30,452.90 L487.30,456.00" fill="none" stroke="#000" stroke-width="1.5" />
<line x1="487.30" y1="459.20" x2="487.30" y2="460.80" stroke="#000" stroke-width="1.5" />
<line x1="487.30" y1="464.50" x2="487.30" y2="474.80" stroke="#000" stroke-width="1.5" />
<line x1="487.30" y1="478.60" x2="487.30" y2="480.20" stroke="#000" stroke-width="1.5" />
<line x1="487.30" y1="483.70" x2="487.30" y2="491.50" stroke="#000" stroke-width="1.5" />
<rect x="298.80" y="289.20" width="10.00" height="10.00" fill="#000" stroke="none" stroke-width="1"/>
<rect x="309.00" y="328.30" width="10.00" height="10.00" fill="#000" stroke="none" stroke-width="1"/>
<rect x="319.87" y="407.50" width="10.00" height="10.00" fill="#000" stroke="none" stroke-width="1"/>
<rect x="330.74" y="486.50" width="10.00" height="10.00" fill="#000" stroke="none" stroke-width="1"/>
<polygon points="313.40,290.00 309.55,297.70 317.25,297.70" fill="#fff" stroke="#000" stroke-width="1.15" stroke-linejoin="miter"/>
<polygon points="324.27,290.00 320.42,297.70 328.12,297.70" fill="#fff" stroke="#000" stroke-width="1.15" stroke-linejoin="miter"/>
<polygon points="335.14,290.00 331.29,297.70 338.99,297.70" fill="#fff" stroke="#000" stroke-width="1.15" stroke-linejoin="miter"/>
<polygon points="346.01,329.10 342.16,336.80 349.86,336.80" fill="#fff" stroke="#000" stroke-width="1.15" stroke-linejoin="miter"/>
<polygon points="356.88,368.70 353.03,376.40 360.73,376.40" fill="#fff" stroke="#000" stroke-width="1.15" stroke-linejoin="miter"/>
<polygon points="367.75,368.70 363.90,376.40 371.60,376.40" fill="#fff" stroke="#000" stroke-width="1.15" stroke-linejoin="miter"/>
<polygon points="378.62,368.70 374.77,376.40 382.47,376.40" fill="#fff" stroke="#000" stroke-width="1.15" stroke-linejoin="miter"/>
<polygon points="389.49,408.30 385.64,416.00 393.34,416.00" fill="#fff" stroke="#000" stroke-width="1.15" stroke-linejoin="miter"/>
<polygon points="400.36,448.70 396.51,456.40 404.21,456.40" fill="#fff" stroke="#000" stroke-width="1.15" stroke-linejoin="miter"/>
<polygon points="411.23,448.70 407.38,456.40 415.08,456.40" fill="#fff" stroke="#000" stroke-width="1.15" stroke-linejoin="miter"/>
<polygon points="422.10,448.70 418.25,456.40 425.95,456.40" fill="#fff" stroke="#000" stroke-width="1.15" stroke-linejoin="miter"/>
<polygon points="432.97,448.70 429.12,456.40 436.82,456.40" fill="#fff" stroke="#000" stroke-width="1.15" stroke-linejoin="miter"/>
<polygon points="443.84,448.70 439.99,456.40 447.69,456.40" fill="#fff" stroke="#000" stroke-width="1.15" stroke-linejoin="miter"/>
<polygon points="454.71,487.30 450.86,495.00 458.56,495.00" fill="#fff" stroke="#000" stroke-width="1.15" stroke-linejoin="miter"/>
<circle cx="346.01" cy="294.20" r="4.85" fill="#000" stroke="#000" stroke-width="0.2"/>
<circle cx="356.88" cy="294.20" r="4.85" fill="#000" stroke="#000" stroke-width="0.2"/>
<circle cx="367.75" cy="294.20" r="4.85" fill="#000" stroke="#000" stroke-width="0.2"/>
<circle cx="378.62" cy="294.20" r="4.85" fill="#000" stroke="#000" stroke-width="0.2"/>
<circle cx="389.49" cy="294.20" r="4.85" fill="#000" stroke="#000" stroke-width="0.2"/>
<circle cx="400.36" cy="294.20" r="4.85" fill="#000" stroke="#000" stroke-width="0.2"/>
<circle cx="411.23" cy="333.30" r="4.85" fill="#000" stroke="#000" stroke-width="0.2"/>
<circle cx="422.10" cy="372.90" r="4.85" fill="#000" stroke="#000" stroke-width="0.2"/>
<circle cx="432.97" cy="412.50" r="4.85" fill="#000" stroke="#000" stroke-width="0.2"/>
<circle cx="443.84" cy="412.50" r="4.85" fill="#000" stroke="#000" stroke-width="0.2"/>
<circle cx="454.71" cy="452.90" r="4.85" fill="#000" stroke="#000" stroke-width="0.2"/>
<circle cx="465.58" cy="452.90" r="4.85" fill="#000" stroke="#000" stroke-width="0.2"/>
<circle cx="476.45" cy="452.90" r="4.85" fill="#000" stroke="#000" stroke-width="0.2"/>
<circle cx="487.32" cy="491.50" r="4.85" fill="#000" stroke="#000" stroke-width="0.2"/>
<polygon points="411.43,289.70 414.88,293.90 411.43,298.10 407.98,293.90" fill="#fff" stroke="#000" stroke-width="1"/>
<polygon points="422.30,289.70 425.75,293.90 422.30,298.10 418.85,293.90" fill="#fff" stroke="#000" stroke-width="1"/>
<polygon points="433.17,289.70 436.62,293.90 433.17,298.10 429.72,293.90" fill="#fff" stroke="#000" stroke-width="1"/>
<polygon points="444.04,289.70 447.49,293.90 444.04,298.10 440.59,293.90" fill="#fff" stroke="#000" stroke-width="1"/>
<polygon points="454.91,289.70 458.36,293.90 454.91,298.10 451.46,293.90" fill="#fff" stroke="#000" stroke-width="1"/>
<polygon points="465.78,289.70 469.23,293.90 465.78,298.10 462.33,293.90" fill="#fff" stroke="#000" stroke-width="1"/>
<polygon points="476.65,289.70 480.10,293.90 476.65,298.10 473.20,293.90" fill="#fff" stroke="#000" stroke-width="1"/>
<polygon points="487.52,289.70 490.97,293.90 487.52,298.10 484.07,293.90" fill="#fff" stroke="#000" stroke-width="1"/>
<polygon points="498.39,289.70 501.84,293.90 498.39,298.10 494.94,293.90" fill="#fff" stroke="#000" stroke-width="1"/>
</g>
</svg>
</body></html>
